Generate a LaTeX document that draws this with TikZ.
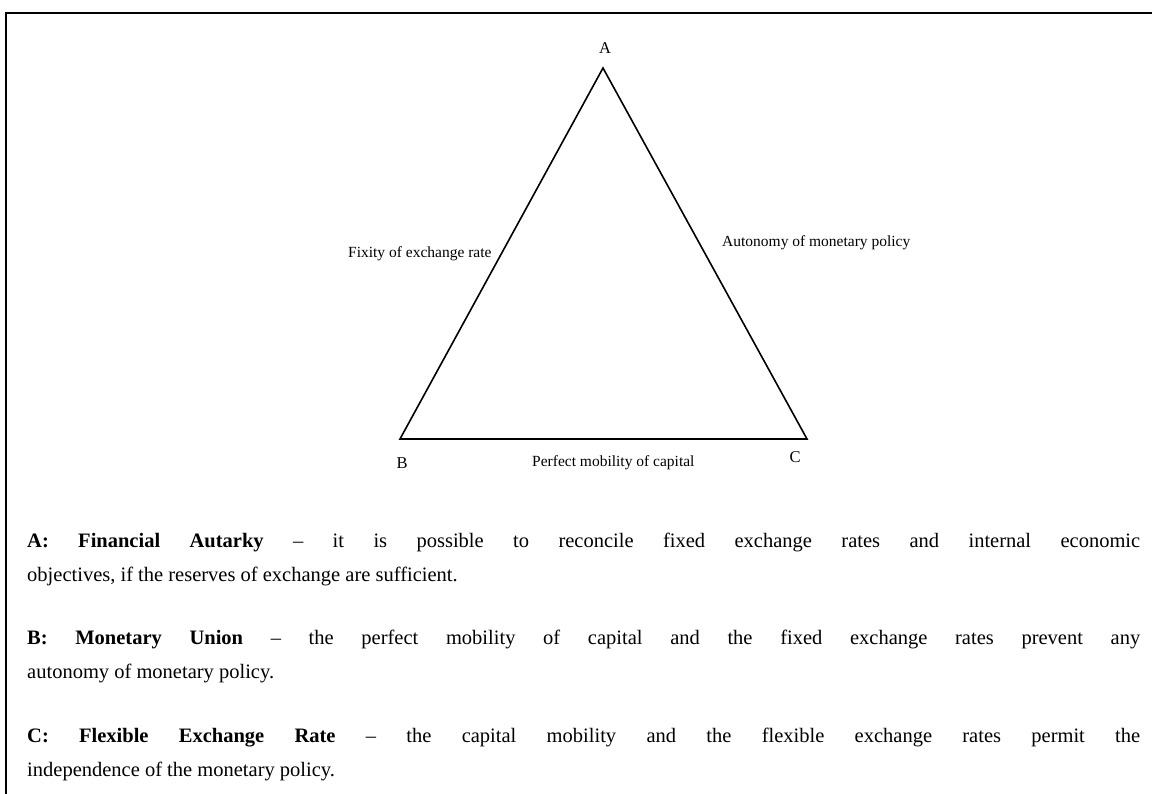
\documentclass[tikz,border=0pt]{standalone}
\usepackage{fontspec}
\setmainfont{Liberation Serif}
\begin{document}
\begin{tikzpicture}[x=1pt,y=-1pt,
  small/.style={font=\fontsize{15.5}{18}\selectfont, inner sep=0pt, anchor=base west},
  vertex/.style={font=\fontsize{16.5}{19}\selectfont, inner sep=0pt, anchor=base},
  body/.style={font=\fontsize{20.5}{24}\selectfont, inner sep=0pt, anchor=base west},
  side/.style={line width=1.6pt, line join=miter}]
\useasboundingbox (0,0) rectangle (1152,794);
\clip (0,0) rectangle (1152,794);
% frame
\draw[line width=2pt] (5.5,13.5) rectangle (1170,820);
% triangle
\coordinate (A) at (603,68);
\coordinate (B) at (400,439);
\coordinate (C) at (807,439);
\draw[side] (A) -- (B) -- (C) -- cycle;
% vertex labels
\node[vertex] (lA) at (605,54) {A};
\node[vertex] (lB) at (402,468) {B};
\node[vertex] (lC) at (795,462) {C};
% side labels
\node[small] (fix) at (348,258) {Fixity of exchange rate};
\node[small] (aut) at (722,247) {Autonomy of monetary policy};
\node[small] (cap) at (532,466) {Perfect mobility of capital};
% text
\node[body] (a1) at (27,547) {\makebox[1113pt][s]{\textbf{A: Financial Autarky} – it is possible to reconcile fixed exchange rates and internal economic}};
\node[body] (a2) at (27,581) {objectives, if the reserves of exchange are sufficient.};
\node[body] (b1) at (27,644) {\makebox[1113pt][s]{\textbf{B: Monetary Union} – the perfect mobility of capital and the fixed exchange rates prevent any}};
\node[body] (b2) at (27,678) {autonomy of monetary policy.};
\node[body] (c1) at (27,742) {\makebox[1113pt][s]{\textbf{C: Flexible Exchange Rate} – the capital mobility and the flexible exchange rates permit the}};
\node[body] (c2) at (27,776) {independence of the monetary policy.};
\end{tikzpicture}
\end{document}
